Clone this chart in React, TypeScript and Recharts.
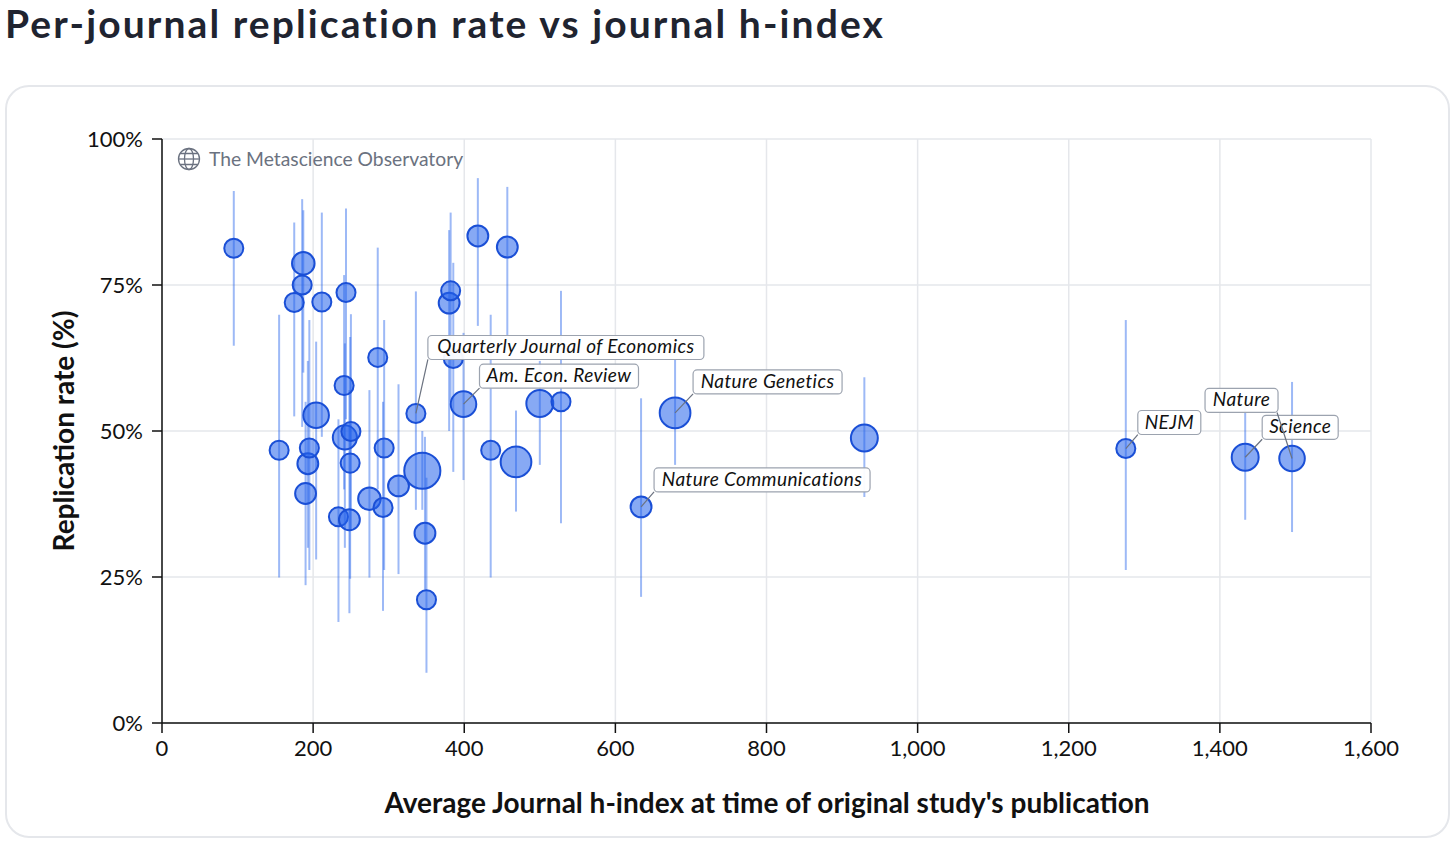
import React from "react";
import {
    ScatterChart,
    Scatter,
    XAxis,
    YAxis,
    ZAxis,
    CartesianGrid,
    ErrorBar,
} from "recharts";

// Average journal h-index per journal (x)
const hIndex = [
    95, 155, 175, 185.5, 187, 190, 193, 195, 204, 211.5, 233.5, 241, 242, 243.5,
    248, 249, 250, 274.5, 285.5, 292.5, 294, 313, 336, 344.5, 348, 350, 380,
    382, 385.5, 399, 418, 435, 457, 468.5, 500, 528, 634, 679, 929.5, 1275.5,
    1433.5, 1495.5,
];
// Replication rate (%)
const rate = [
    81.3, 46.7, 72.0, 75.0, 78.7, 39.3, 44.4, 47.1, 52.7, 72.1, 35.3, 57.8,
    48.9, 73.7, 34.8, 44.5, 49.9, 38.4, 62.6, 36.9, 47.1, 40.6, 53.0, 43.2,
    32.5, 21.1, 71.9, 74.0, 62.4, 54.6, 83.4, 46.7, 81.5, 44.7, 54.7, 55.0,
    37.0, 53.1, 48.8, 47.0, 45.5, 45.3,
];
// Interval lower / upper bounds (%)
const rateLow = [
    64.6, 24.9, 52.5, 50.7, 60, 23.6, 30, 26.2, 28, 49, 17.3, 40, 30, 52, 18.8,
    24.7, 33, 24.9, 40, 19.2, 26.2, 25.5, 36.5, 36.5, 22.8, 8.6, 50, 55, 43,
    41.6, 68, 24.9, 66.4, 36.2, 44.2, 34.2, 21.6, 44.2, 38.7, 26.2, 34.8, 32.7,
];
const rateHigh = [
    91.1, 69.9, 85.7, 89.7, 87.8, 55, 62, 69, 65.3, 87.4, 52, 76.7, 65, 88.1,
    57, 66.1, 70, 57, 81.4, 55, 69, 58, 73.9, 50, 49, 42, 84.4, 87.4, 78.8,
    66.8, 93.3, 69.9, 91.8, 53.5, 62, 74, 55.6, 62.2, 59.2, 69, 54.5, 58.4,
];
// Number of replicated studies (bubble size)
const studies = [
    5, 5, 5, 5, 7, 6, 6, 5, 9, 5, 5, 5, 8, 5, 6, 5, 5, 7, 5, 5, 5, 6, 5, 18, 6,
    5, 6, 5, 5, 9, 6, 5, 6, 13, 10, 5, 6, 13, 10, 5, 10, 9,
];
// Journals called out on the chart, by point index
const calloutJournals: Record<number, string> = {
    22: "Quarterly Journal of Economics",
    29: "Am. Econ. Review",
    37: "Nature Genetics",
    36: "Nature Communications",
    39: "NEJM",
    40: "Science",
    41: "Nature",
};

const xTicks = [0, 200, 400, 600, 800, 1000, 1200, 1400, 1600];
const yTicks = [0, 25, 50, 75, 100];

// box placement relative to the point (px)
const calloutBox: Record<string, { dx: number; dy: number; w: number }> = {
    "Quarterly Journal of Economics": { dx: 12, dy: -78, w: 276 },
    "Am. Econ. Review": { dx: 16, dy: -40, w: 159 },
    "Nature Genetics": { dx: 18, dy: -43, w: 149 },
    "Nature Communications": { dx: 13, dy: -39, w: 216 },
    NEJM: { dx: 12, dy: -38, w: 63 },
    Science: { dx: 17, dy: -42, w: 76 },
    Nature: { dx: -87, dy: -70, w: 73 },
};

const rows = hIndex.map((x, i) => ({
    x,
    y: rate[i],
    err: [rate[i] - rateLow[i], rateHigh[i] - rate[i]],
    n: studies[i],
    journal: calloutJournals[i] || "",
}));
const calloutRows = rows.filter((r) => r.journal);

const FONT = "Lato, 'Noto Sans', sans-serif";

const Callout = (props: any) => {
    const { cx, cy, payload } = props;
    const box = calloutBox[payload.journal];
    if (!box || cx == null) return null;
    const left = cx + box.dx;
    const top = cy + box.dy;
    const h = 24;
    const lx = box.dx > 0 ? left : left + box.w - 1;
    return (
        <g>
            <line x1={cx} y1={cy} x2={lx} y2={top + h} stroke="#6b7280" strokeWidth={1.2} />
            <rect
                x={left}
                y={top}
                width={box.w}
                height={h}
                rx={4}
                fill="#fff"
                fillOpacity={0.95}
                stroke="#9ca3af"
                strokeWidth={1.2}
            />
            <text
                x={left + box.w / 2}
                y={top + 18}
                textAnchor="middle"
                fontStyle="italic"
                fontSize={19}
                letterSpacing={0.4}
                fill="#111"
                fontFamily={FONT}
            >
                {payload.journal}
            </text>
        </g>
    );
};

export default function App() {
    return (
        <div
            style={{
                position: "absolute",
                left: 0,
                top: 0,
                width: 1456,
                height: 853,
                background: "#fff",
                fontFamily: FONT,
            }}
        >
            <div
                style={{
                    position: "absolute",
                    left: 5,
                    top: 0,
                    fontSize: 39,
                    lineHeight: "47px",
                    letterSpacing: 2.1,
                    fontWeight: 700,
                    color: "#1f2430",
                    whiteSpace: "nowrap",
                }}
            >
                Per-journal replication rate vs journal h-index
            </div>
            <div
                style={{
                    position: "absolute",
                    left: 5,
                    top: 85,
                    width: 1441,
                    height: 749,
                    border: "2px solid #e5e7eb",
                    borderRadius: 24,
                }}
            />
            <div style={{ position: "absolute", left: 0, top: 0 }}>
                <ScatterChart
                    width={1456}
                    height={853}
                    margin={{ top: 139, right: 85, bottom: 90, left: 82 }}
                >
                    <CartesianGrid stroke="#e5e7eb" strokeWidth={1.5} />
                    <XAxis
                        type="number"
                        dataKey="x"
                        domain={[0, 1600]}
                        ticks={xTicks}
                        height={40}
                        tickSize={10}
                        tickMargin={7}
                        tickFormatter={(v) => v.toLocaleString("en-US")}
                        stroke="#111"
                        strokeWidth={1.5}
                        tick={{ fontSize: 22, fill: "#111", fontFamily: FONT }}
                    />
                    <YAxis
                        type="number"
                        dataKey="y"
                        domain={[0, 100]}
                        ticks={yTicks}
                        width={80}
                        tickSize={10}
                        tickMargin={9}
                        tickFormatter={(v) => `${v}%`}
                        stroke="#111"
                        strokeWidth={1.5}
                        tick={{ fontSize: 22, fill: "#111", fontFamily: FONT }}
                    />
                    <ZAxis type="number" dataKey="n" domain={[0, 20]} range={[0, 1140]} />
                    <Scatter
                        data={rows}
                        fill="#2563eb"
                        fillOpacity={0.55}
                        stroke="#1a4fd6"
                        strokeWidth={2}
                        isAnimationActive={false}
                    >
                        <ErrorBar
                            dataKey="err"
                            direction="y"
                            width={0}
                            stroke="#2563eb"
                            strokeOpacity={0.45}
                            strokeWidth={2}
                        />
                    </Scatter>
                    <Scatter
                        data={calloutRows}
                        shape={(p: any) => <Callout {...p} />}
                        isAnimationActive={false}
                    />
                </ScatterChart>
            </div>
            {/* watermark */}
            <svg
                style={{ position: "absolute", left: 177, top: 147 }}
                width={24}
                height={24}
                viewBox="0 0 24 24"
            >
                <g fill="none" stroke="#6b7280" strokeWidth={1.3}>
                    <circle cx={12} cy={12} r={10.5} />
                    <ellipse cx={12} cy={12} rx={4.5} ry={10.5} />
                    <line x1={1.5} y1={12} x2={22.5} y2={12} />
                    <path d="M3.2 6.5 H20.8 M3.2 17.5 H20.8" />
                </g>
            </svg>
            <div
                style={{
                    position: "absolute",
                    left: 209,
                    top: 147,
                    fontSize: 19.3,
                    lineHeight: "24px",
                    color: "#6b7280",
                    whiteSpace: "nowrap",
                }}
            >
                The Metascience Observatory
            </div>
            {/* axis titles */}
            <div
                style={{
                    position: "absolute",
                    left: 0,
                    width: 1534,
                    top: 784,
                    textAlign: "center",
                    fontSize: 28,
                    lineHeight: "36px",
                    fontWeight: 700,
                    color: "#111",
                    whiteSpace: "nowrap",
                }}
            >
                Average Journal h-index at time of original study's publication
            </div>
            <div
                style={{
                    position: "absolute",
                    left: 63 - 200,
                    top: 431 - 18,
                    width: 400,
                    height: 36,
                    transform: "rotate(-90deg)",
                    textAlign: "center",
                    fontSize: 28,
                    lineHeight: "36px",
                    fontWeight: 700,
                    color: "#111",
                    whiteSpace: "nowrap",
                }}
            >
                Replication rate (%)
            </div>
        </div>
    );
}
